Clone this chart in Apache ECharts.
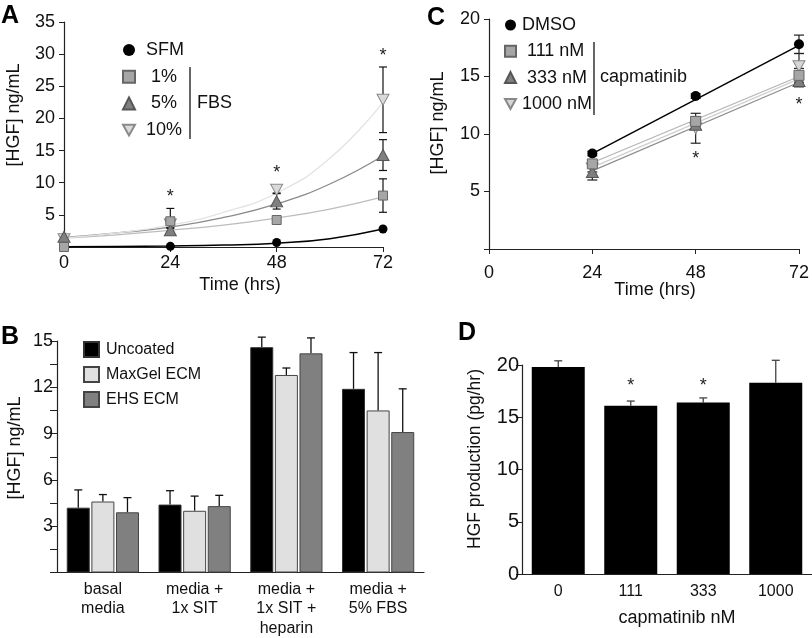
<!DOCTYPE html>
<html><head><meta charset="utf-8">
<script src="https://cdn.jsdelivr.net/npm/echarts@6/dist/echarts.min.js"></script>
<style>html,body{margin:0;padding:0;background:#fff}#c{width:812px;height:638px}</style>
</head><body><div id="c"></div>
<script>
// ---------- Panel A data ----------
const timesA = [0, 24, 48, 72];
const sfmA = [0.05, 0.1, 0.7, 2.8];
const fbs1A = [0.0, 4.0, 4.2, 8.0];
const fbs5A = [1.6, 2.6, 7.1, 14.3];
const fbs10A = [1.2, 3.5, 8.9, 22.9];
const err1A = [0, 2.0, 0.3, 2.6];
const err5A = [0, 0.3, 1.2, 2.4];
const err10A = [0, 0.5, 0.5, 5.1];
const fitTimesA = [0, 12, 24, 36, 48, 60, 72];
const fitSfmA = [0.05, 0.08, 0.15, 0.3, 0.6, 1.3, 2.8];
const fit1A = [1.4, 1.9, 2.6, 3.4, 4.5, 5.9, 7.8];
const fit5A = [1.5, 2.2, 3.1, 4.6, 6.7, 9.8, 14.2];
const fit10A = [1.4, 2.2, 3.4, 5.4, 8.4, 13.8, 22.5];
const sigA = [[24, 8.4], [48, 12.1], [72, 30.3]];

// ---------- Panel C data ----------
const timesC = [24, 48, 72];
const dmsoC = [8.3, 13.3, 17.8];
const c111 = [7.4, 11.1, 15.1];
const c333 = [6.7, 10.8, 14.6];
const c1000 = [7.0, 10.5, 15.9];
const errDmsoC = [0.2, 0.2, 0.8];
const err111C = [0.3, 0.4, 0.6];
const err333C = [0.7, 0.4, 0.5];
const err1000C = [0.3, 1.3, 1.1];
const fitTimesC = [24, 72];
const fitDmsoC = [8.3, 17.7];
const fit111C = [7.5, 15.0];
const fit333C = [6.8, 14.5];
const fit1000C = [7.1, 14.8];
const sigC = [[48, 8.2], [72, 12.9]];

// ---------- Panel B data ----------
const catsB = ['basal\nmedia', 'media +\n1x SIT', 'media +\n1x SIT +\nheparin', 'media +\n5% FBS'];
const uncoatedB = [4.2, 4.4, 14.6, 11.9];
const maxgelB = [4.6, 4.0, 12.8, 10.5];
const ehsB = [3.9, 4.3, 14.2, 9.1];
const errUncB = [1.15, 0.9, 0.65, 2.35];
const errMaxB = [0.45, 0.95, 0.45, 3.75];
const errEhsB = [0.95, 0.7, 1.0, 2.8];

// ---------- Panel D data ----------
const catsD = ['0', '111', '333', '1000'];
const prodD = [19.8, 16.1, 16.4, 18.3];
const errD = [0.6, 0.45, 0.45, 2.15];
const sigD = [['111', 18.4], ['333', 18.4]];

const FONT = 'Liberation Sans, Arial, Helvetica, sans-serif';
const DOWN = 'path://M0,0L10,0L5,9Z';
const AX = '#222';

function pairs(xs, ys) { return xs.map((x, i) => [x, ys[i]]); }

function errSeries(xi, yi, xs, ys, errs, color, cap) {
  const data = [];
  xs.forEach((x, i) => { if (errs[i] > 0) data.push([x, ys[i] - errs[i], ys[i] + errs[i]]); });
  return {
    type: 'custom', xAxisIndex: xi, yAxisIndex: yi, z: 2, silent: true, data,
    encode: { x: 0, y: [1, 2] },
    renderItem(params, api) {
      const x = api.value(0);
      const a = api.coord([x, api.value(2)]);
      const b = api.coord([x, api.value(1)]);
      const st = { stroke: color, lineWidth: 1.2 };
      return { type: 'group', children: [
        { type: 'line', shape: { x1: a[0], y1: a[1], x2: b[0], y2: b[1] }, style: st },
        { type: 'line', shape: { x1: a[0] - cap, y1: a[1], x2: a[0] + cap, y2: a[1] }, style: st },
        { type: 'line', shape: { x1: b[0] - cap, y1: b[1], x2: b[0] + cap, y2: b[1] }, style: st }
      ] };
    }
  };
}

function barErrSeries(xi, yi, vals, errs, offset, color, cap) {
  const data = vals.map((v, i) => [i, v, v + errs[i]]);
  return {
    type: 'custom', xAxisIndex: xi, yAxisIndex: yi, z: 1, silent: true, data,
    encode: { x: 0, y: [1, 2] },
    renderItem(params, api) {
      const a = api.coord([api.value(0), api.value(2)]);
      const b = api.coord([api.value(0), api.value(1)]);
      const x = a[0] + offset;
      const st = { stroke: color, lineWidth: 1.3 };
      return { type: 'group', children: [
        { type: 'line', shape: { x1: x, y1: a[1], x2: x, y2: b[1] }, style: st },
        { type: 'line', shape: { x1: x - cap, y1: a[1], x2: x + cap, y2: a[1] }, style: st }
      ] };
    }
  };
}

function sigSeries(xi, yi, pts) {
  return {
    type: 'custom', xAxisIndex: xi, yAxisIndex: yi, z: 5, silent: true, data: pts,
    renderItem(params, api) {
      const p = api.coord([api.value(0), api.value(1)]);
      return { type: 'text', x: p[0], y: p[1] + 4,
        style: { text: '*', font: '18px ' + FONT, fill: '#222', align: 'center', verticalAlign: 'middle' } };
    }
  };
}

function valAxis(grid, min, max, interval, opts) {
  return Object.assign({
    type: 'value', gridIndex: grid, min, max, interval,
    axisLine: { show: true, lineStyle: { color: AX, width: 1.2 } },
    axisTick: { show: true, length: 5, lineStyle: { color: AX } },
    splitLine: { show: false },
    axisLabel: { fontSize: 18, color: '#111', fontFamily: FONT }
  }, opts || {});
}

const chart = echarts.init(document.getElementById('c'), null, { renderer: 'canvas' });

const option = {
  animation: false,
  textStyle: { fontFamily: FONT },
  grid: [
    { left: 64, top: 22, width: 319, height: 225 },   // A
    { left: 489, top: 19, width: 314, height: 230 },  // C
    { left: 57, top: 341, width: 367, height: 232 },  // B
    { left: 522, top: 365, width: 290, height: 209 }  // D
  ],
  xAxis: [
    valAxis(0, 0, 72, 24, { axisLabel: { fontSize: 18, color: '#111', fontFamily: FONT, margin: 7 } }),
    valAxis(1, 0, 72, 24, { axisLabel: { fontSize: 18, color: '#111', fontFamily: FONT, margin: 15 } }),
    { type: 'category', gridIndex: 2, data: catsB,
      axisLine: { lineStyle: { color: AX, width: 1.2 } },
      axisTick: { inside: true, length: 6, lineStyle: { color: AX } },
      axisLabel: { fontSize: 16, lineHeight: 19.5, color: '#111', fontFamily: FONT, margin: 7, interval: 0 } },
    { type: 'category', gridIndex: 3, data: catsD,
      axisLine: { lineStyle: { color: AX, width: 1.2 } },
      axisTick: { inside: true, length: 6, lineStyle: { color: AX } },
      axisLabel: { fontSize: 16, color: '#111', fontFamily: FONT, margin: 10, interval: 0 } }
  ],
  yAxis: [
    valAxis(0, 0, 35, 5, { axisLabel: { fontSize: 18, color: '#111', fontFamily: FONT, margin: 9, formatter: v => v === 0 ? '' : v } }),
    valAxis(1, 0, 20, 5, { axisLabel: { fontSize: 18, color: '#111', fontFamily: FONT, margin: 9, formatter: v => v === 0 ? '' : v } }),
    valAxis(2, 0, 15, 3, { axisTick: { show: true, length: 7, lineStyle: { color: AX } },
      minorTick: { show: true, splitNumber: 2, length: 7, lineStyle: { color: AX } },
      axisLabel: { fontSize: 18, color: '#111', fontFamily: FONT, margin: 4, formatter: v => v === 0 ? '' : v } }),
    valAxis(3, 0, 20, 5, { axisTick: { show: true, length: 6, lineStyle: { color: AX } },
      axisLabel: { fontSize: 20, color: '#111', fontFamily: FONT, margin: 3 } })
  ],
  legend: [
    { left: 122, top: 41, padding: 0, orient: 'vertical', itemGap: 8.7, itemWidth: 12, itemHeight: 12,
      selectedMode: false,
      formatter: n => (n === '1%' || n === '5%') ? ' ' + n : n,
      textStyle: { fontSize: 18, lineHeight: 18, color: '#111', fontFamily: FONT, padding: [0, 0, 0, 6] },
      data: [{ name: 'SFM', icon: 'circle' }, { name: '1%', icon: 'rect' }, { name: '5%', icon: 'triangle' }, { name: '10%', icon: DOWN }] },
    { left: 504, top: 16, padding: 0, orient: 'vertical', itemGap: 8.3, itemWidth: 11, itemHeight: 11,
      selectedMode: false,
      formatter: n => n === '111 nM' || n === '333 nM' ? ' ' + n : n,
      textStyle: { fontSize: 18, lineHeight: 18, color: '#111', fontFamily: FONT, padding: [0, 0, 0, 1] },
      data: [{ name: 'DMSO', icon: 'circle' }, { name: '111 nM', icon: 'rect' }, { name: '333 nM', icon: 'triangle' }, { name: '1000 nM', icon: DOWN }] },
    { left: 83, top: 341, padding: 0, orient: 'vertical', itemGap: 8, itemWidth: 15, itemHeight: 15,
      selectedMode: false,
      textStyle: { fontSize: 16, lineHeight: 16, color: '#111', fontFamily: FONT, padding: [0, 0, 0, 2] },
      data: [{ name: 'Uncoated', icon: 'rect' }, { name: 'MaxGel ECM', icon: 'rect' }, { name: 'EHS ECM', icon: 'rect' }] }
  ],
  series: [
    // ----- A fit curves -----
    { type: 'line', name: 'fitSFM', xAxisIndex: 0, yAxisIndex: 0, data: pairs(fitTimesA, fitSfmA), smooth: true, showSymbol: false, symbol: 'none', z: 1, lineStyle: { color: '#000', width: 1.5 }, silent: true },
    { type: 'line', name: 'fit1', xAxisIndex: 0, yAxisIndex: 0, data: pairs(fitTimesA, fit1A), smooth: true, showSymbol: false, symbol: 'none', z: 1, lineStyle: { color: '#bdbdbd', width: 1.3 }, silent: true },
    { type: 'line', name: 'fit5', xAxisIndex: 0, yAxisIndex: 0, data: pairs(fitTimesA, fit5A), smooth: true, showSymbol: false, symbol: 'none', z: 1, lineStyle: { color: '#8a8a8a', width: 1.3 }, silent: true },
    { type: 'line', name: 'fit10', xAxisIndex: 0, yAxisIndex: 0, data: pairs(fitTimesA, fit10A), smooth: true, showSymbol: false, symbol: 'none', z: 1, lineStyle: { color: '#e3e3e3', width: 1.3 }, silent: true },
    errSeries(0, 0, timesA, fbs1A, err1A, '#111', 4),
    errSeries(0, 0, timesA, fbs5A, err5A, '#111', 4),
    errSeries(0, 0, timesA, fbs10A, err10A, '#111', 4),
    { type: 'scatter', name: 'SFM', xAxisIndex: 0, yAxisIndex: 0, data: pairs(timesA, sfmA), symbol: 'circle', symbolSize: 9, z: 3, itemStyle: { color: '#000', opacity: 1 } },
    { type: 'scatter', name: '10%', xAxisIndex: 0, yAxisIndex: 0, data: pairs(timesA, fbs10A), symbol: DOWN, symbolSize: [12, 11], z: 3, itemStyle: { color: '#dadada', borderColor: '#8a8a8a', borderWidth: 1, opacity: 1 } },
    { type: 'scatter', name: '5%', xAxisIndex: 0, yAxisIndex: 0, data: pairs(timesA, fbs5A), symbol: 'triangle', symbolSize: [12, 11], z: 3, itemStyle: { color: '#7f7f7f', borderColor: '#555', borderWidth: 1, opacity: 1 } },
    { type: 'scatter', name: '1%', xAxisIndex: 0, yAxisIndex: 0, data: pairs(timesA, fbs1A), symbol: 'rect', symbolSize: 9, z: 3, itemStyle: { color: '#a6a6a6', borderColor: '#666', borderWidth: 1, opacity: 1 } },
    sigSeries(0, 0, sigA),

    // ----- C -----
    { type: 'line', name: 'fitDMSO', xAxisIndex: 1, yAxisIndex: 1, data: pairs(fitTimesC, fitDmsoC), showSymbol: false, symbol: 'none', z: 1, lineStyle: { color: '#000', width: 1.5 }, silent: true },
    { type: 'line', name: 'fit111', xAxisIndex: 1, yAxisIndex: 1, data: pairs(fitTimesC, fit111C), showSymbol: false, symbol: 'none', z: 1, lineStyle: { color: '#b5b5b5', width: 1.3 }, silent: true },
    { type: 'line', name: 'fit333', xAxisIndex: 1, yAxisIndex: 1, data: pairs(fitTimesC, fit333C), showSymbol: false, symbol: 'none', z: 1, lineStyle: { color: '#8f8f8f', width: 1.3 }, silent: true },
    { type: 'line', name: 'fit1000', xAxisIndex: 1, yAxisIndex: 1, data: pairs(fitTimesC, fit1000C), showSymbol: false, symbol: 'none', z: 1, lineStyle: { color: '#cfcfcf', width: 1.3 }, silent: true },
    errSeries(1, 1, timesC, dmsoC, errDmsoC, '#222', 5),
    errSeries(1, 1, timesC, c111, err111C, '#222', 5),
    errSeries(1, 1, timesC, c333, err333C, '#222', 5),
    errSeries(1, 1, timesC, c1000, err1000C, '#222', 5),
    { type: 'scatter', name: 'DMSO', xAxisIndex: 1, yAxisIndex: 1, data: pairs(timesC, dmsoC), symbol: 'circle', symbolSize: 10, z: 3, itemStyle: { color: '#000', opacity: 1 } },
    { type: 'scatter', name: '1000 nM', xAxisIndex: 1, yAxisIndex: 1, data: pairs(timesC, c1000), symbol: DOWN, symbolSize: [12, 11], z: 3, itemStyle: { color: '#d6d6d6', borderColor: '#888', borderWidth: 1, opacity: 1 } },
    { type: 'scatter', name: '333 nM', xAxisIndex: 1, yAxisIndex: 1, data: pairs(timesC, c333), symbol: 'triangle', symbolSize: [12, 11], z: 3, itemStyle: { color: '#7f7f7f', borderColor: '#555', borderWidth: 1, opacity: 1 } },
    { type: 'scatter', name: '111 nM', xAxisIndex: 1, yAxisIndex: 1, data: pairs(timesC, c111), symbol: 'rect', symbolSize: 10, z: 3, itemStyle: { color: '#a6a6a6', borderColor: '#666', borderWidth: 1, opacity: 1 } },
    sigSeries(1, 1, sigC),

    // ----- B -----
    { type: 'bar', name: 'Uncoated', xAxisIndex: 2, yAxisIndex: 2, data: uncoatedB, barWidth: 23, barGap: '7%', z: 2, itemStyle: { color: '#000', borderColor: '#333', borderWidth: 1 } },
    { type: 'bar', name: 'MaxGel ECM', xAxisIndex: 2, yAxisIndex: 2, data: maxgelB, barWidth: 23, barGap: '7%', z: 2, itemStyle: { color: '#e0e0e0', borderColor: '#444', borderWidth: 1 } },
    { type: 'bar', name: 'EHS ECM', xAxisIndex: 2, yAxisIndex: 2, data: ehsB, barWidth: 23, barGap: '7%', z: 2, itemStyle: { color: '#808080', borderColor: '#444', borderWidth: 1 } },
    barErrSeries(2, 2, uncoatedB, errUncB, -24.6, '#111', 4),
    barErrSeries(2, 2, maxgelB, errMaxB, 0, '#111', 4),
    barErrSeries(2, 2, ehsB, errEhsB, 24.6, '#111', 4),

    // ----- D -----
    { type: 'bar', name: 'HGF production', xAxisIndex: 3, yAxisIndex: 3, data: prodD, barWidth: 53, z: 2, itemStyle: { color: '#000' } },
    barErrSeries(3, 3, prodD, errD, 0, '#444', 4),
    sigSeries(3, 3, sigD)
  ],
  graphic: [
    { type: 'text', left: 1, top: 4, style: { text: 'A', font: 'bold 25px ' + FONT, fill: '#000' } },
    { type: 'text', left: 427, top: 6, style: { text: 'C', font: 'bold 25px ' + FONT, fill: '#000' } },
    { type: 'text', left: 1, top: 325, style: { text: 'B', font: 'bold 25px ' + FONT, fill: '#000' } },
    { type: 'text', left: 458, top: 321, style: { text: 'D', font: 'bold 25px ' + FONT, fill: '#000' } },
    // axis titles
    { type: 'text', x: 14, y: 115, rotation: Math.PI / 2, style: { text: '[HGF] ng/mL', font: '18px ' + FONT, fill: '#111', align: 'center', verticalAlign: 'middle' } },
    { type: 'text', x: 240, y: 285, style: { text: 'Time (hrs)', font: '18px ' + FONT, fill: '#111', align: 'center', verticalAlign: 'middle' } },
    { type: 'text', x: 438, y: 123, rotation: Math.PI / 2, style: { text: '[HGF] ng/mL', font: '18px ' + FONT, fill: '#111', align: 'center', verticalAlign: 'middle' } },
    { type: 'text', x: 655, y: 290, style: { text: 'Time (hrs)', font: '18px ' + FONT, fill: '#111', align: 'center', verticalAlign: 'middle' } },
    { type: 'text', x: 15, y: 448, rotation: Math.PI / 2, style: { text: '[HGF] ng/mL', font: '18px ' + FONT, fill: '#111', align: 'center', verticalAlign: 'middle' } },
    { type: 'text', x: 475, y: 459, rotation: Math.PI / 2, style: { text: 'HGF production (pg/hr)', font: '17.5px ' + FONT, fill: '#111', align: 'center', verticalAlign: 'middle' } },
    { type: 'text', x: 677, y: 618, style: { text: 'capmatinib nM', font: '18px ' + FONT, fill: '#111', align: 'center', verticalAlign: 'middle' } },
    // legend brackets
    { type: 'line', shape: { x1: 190, y1: 67, x2: 190, y2: 139 }, style: { stroke: '#000', lineWidth: 1.2 } },
    { type: 'text', x: 197, y: 103, style: { text: 'FBS', font: '18px ' + FONT, fill: '#111', align: 'left', verticalAlign: 'middle' } },
    { type: 'line', shape: { x1: 594, y1: 42, x2: 594, y2: 115 }, style: { stroke: '#000', lineWidth: 1.2 } },
    { type: 'text', x: 600, y: 77, style: { text: 'capmatinib', font: '18px ' + FONT, fill: '#111', align: 'left', verticalAlign: 'middle' } }
  ]
};
chart.setOption(option);
</script>
</body></html>
